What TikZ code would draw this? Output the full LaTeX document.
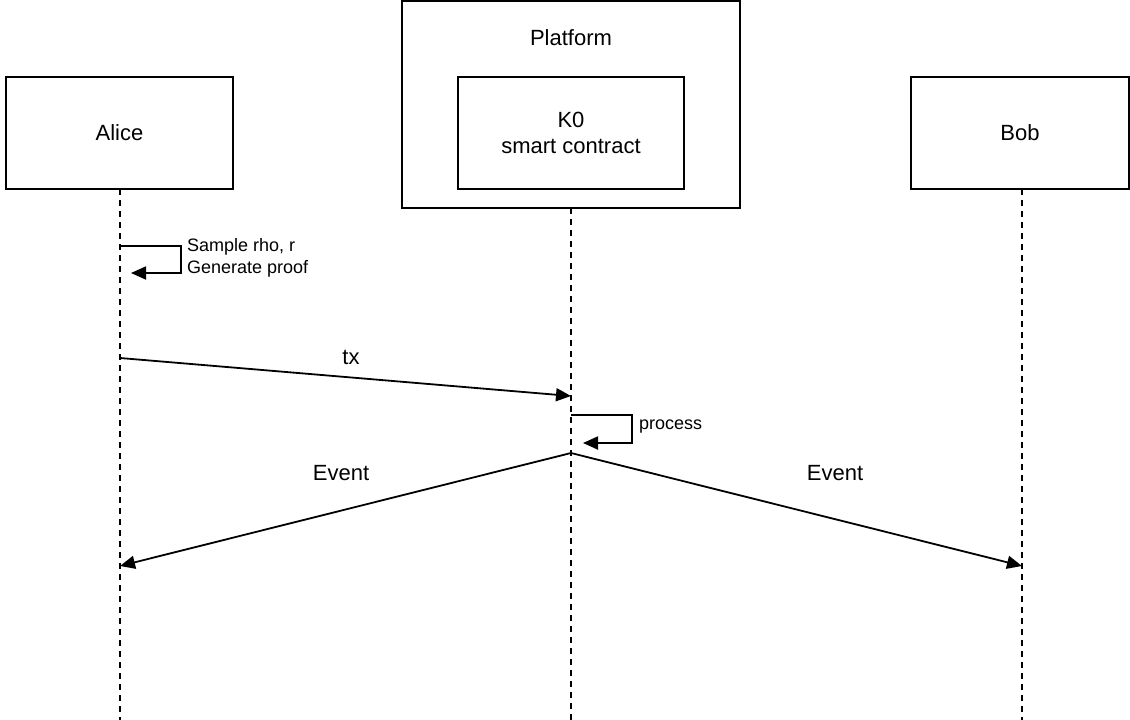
\documentclass[tikz,border=0pt]{standalone}
\usepackage{fontspec}
\setmainfont{Liberation Sans}
\usetikzlibrary{arrows.meta}
\tikzset{
  actor/.style={draw=black, line width=1.8pt, fill=white, inner sep=0pt, font=\fontsize{22}{25.5}\selectfont, align=center},
  lifeline/.style={draw=black, line width=1.6pt, dash pattern=on 5.5pt off 5.5pt},
  msg/.style={draw=black, line width=1.8pt, -{Triangle[length=15pt,width=13pt]}},
  biglbl/.style={font=\fontsize{22}{25.5}\selectfont, inner sep=0pt},
  smalllbl/.style={font=\fontsize{18}{22}\selectfont, inner sep=0pt, align=left, anchor=west}
}
\begin{document}
\begin{tikzpicture}[x=1pt, y=-1pt]
\useasboundingbox (0,0) rectangle (1130,720);
% boxes
\node[actor, minimum width=227pt, minimum height=112pt] (alice) at (119.5,133) {Alice};
\node[actor, minimum width=218pt, minimum height=112pt] (bob) at (1020,133) {Bob};
\node[actor, minimum width=338pt, minimum height=207pt] (platform) at (571,104.5) {};
\node[biglbl] (ptitle) at (571,38) {Platform};
\node[actor, minimum width=226pt, minimum height=112pt] (k0) at (571,133) {K0\\smart contract};
% lifeline ends
\coordinate (aliceTop) at (120,189);
\coordinate (aliceBot) at (120,720);
\coordinate (k0Top) at (571,208);
\coordinate (k0Bot) at (571,720);
\coordinate (bobTop) at (1022,189);
\coordinate (bobBot) at (1022,720);
\draw[lifeline] (aliceTop) -- (aliceBot);
\draw[lifeline] (k0Top) -- (k0Bot);
\draw[lifeline] (bobTop) -- (bobBot);
% Alice self loop
\coordinate (a1) at (120,246);
\coordinate (a2) at (131,273);
\draw[msg] (a1) -- (181,246) -- (181,273) -- (a2);
\node[smalllbl] (sample) at (187,258) {Sample rho, r\\Generate proof};
% tx
\coordinate (txs) at (120,358);
\coordinate (txe) at (571,396);
\draw[msg] (txs) -- (txe);
\node[biglbl] (txlbl) at (351,357) {tx};
% process
\coordinate (p1) at (571,415);
\coordinate (p2) at (583,443);
\draw[msg] (p1) -- (632,415) -- (632,443) -- (p2);
\node[smalllbl] (proc) at (639,427) {process};
% events
\coordinate (ev) at (571,453);
\coordinate (evA) at (120,566);
\coordinate (evB) at (1022,566);
\draw[msg] (ev) -- (evA);
\draw[msg] (ev) -- (evB);
\node[biglbl] (e1) at (341,473) {Event};
\node[biglbl] (e2) at (835,473) {Event};
\end{tikzpicture}
\end{document}
